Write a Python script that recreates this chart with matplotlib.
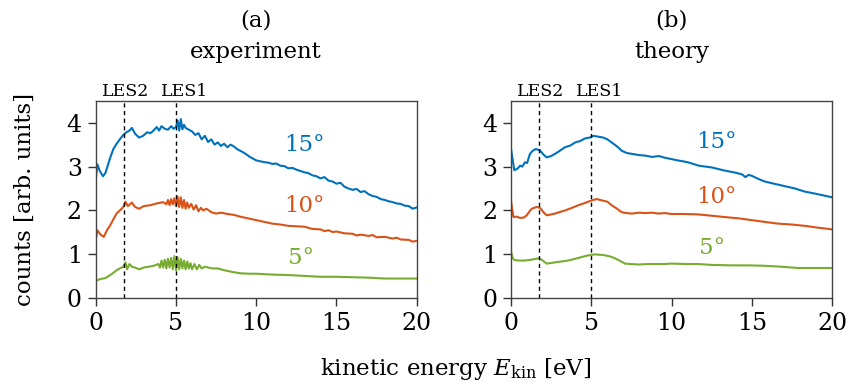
import matplotlib
matplotlib.use("Agg")
import matplotlib.pyplot as plt

plt.rcParams['font.family'] = ['DejaVu Serif']
plt.rcParams['mathtext.fontset'] = 'dejavuserif'

blue = '#0072BD'
orange = '#D95319'
green = '#77AC30'

# experiment (a)
exp15_x = [0, 0.1, 0.25, 0.45, 0.6, 0.9, 1.1, 1.3, 1.5, 1.72, 1.9, 2.1, 2.25, 2.45, 2.7, 2.95, 3.2,
           3.4, 3.6, 3.8, 3.95, 4.1, 4.3, 4.5, 4.7, 4.85, 5.0, 5.1, 5.2, 5.3, 5.4, 5.5, 5.6, 5.8, 6.0,
           6.2, 6.4, 6.6, 6.8, 7.0, 7.2, 7.4, 7.6, 7.8, 8.0, 8.2, 8.4, 8.6, 8.8, 9.0, 9.3, 9.6,
           10.0, 10.25, 10.5, 10.75, 11.0, 11.25, 11.5, 11.75, 12.0, 12.25, 12.5, 12.75, 13.0, 13.25,
           13.5, 13.75, 14.0, 14.25, 14.5, 14.75, 15.0, 15.25, 15.5, 15.75, 16.0, 16.25, 16.5, 16.75,
           17.0, 17.25, 17.5, 17.75, 18.0, 18.25, 18.5, 18.75, 19.0, 19.25, 19.5, 19.75, 20.0]
exp15_y = [2.70, 3.05, 2.90, 2.78, 2.85, 3.20, 3.40, 3.52, 3.62, 3.72, 3.78, 3.82, 3.88, 3.75, 3.66,
           3.70, 3.78, 3.76, 3.82, 3.90, 3.82, 3.92, 3.86, 3.84, 3.92, 3.86, 3.90, 4.05, 3.82, 4.08,
           3.85, 3.95, 3.88, 3.84, 3.80, 3.72, 3.76, 3.62, 3.70, 3.56, 3.62, 3.50, 3.55, 3.47, 3.52,
           3.44, 3.50, 3.46, 3.40, 3.36, 3.30, 3.22,
           3.14, 3.12, 3.10, 3.09, 3.06, 3.07, 3.02, 3.01, 2.96, 2.97, 2.93, 2.90, 2.87, 2.85,
           2.80, 2.78, 2.73, 2.76, 2.68, 2.66, 2.61, 2.63, 2.54, 2.50, 2.47, 2.49, 2.42, 2.44,
           2.37, 2.33, 2.31, 2.26, 2.24, 2.21, 2.19, 2.16, 2.15, 2.11, 2.10, 2.04, 2.07]

exp10_x = [0, 0.1, 0.3, 0.5, 0.7, 0.9, 1.1, 1.3, 1.5, 1.72, 1.85, 2.0, 2.25, 2.45, 2.7, 3.0, 3.4,
           3.8, 4.2, 4.4, 4.5, 4.6, 4.7, 4.8, 4.9, 5.0, 5.1, 5.2, 5.3, 5.4, 5.5, 5.6, 5.7, 5.8, 5.95,
           6.1, 6.25, 6.4, 6.55, 6.7, 6.9, 7.2, 7.5, 7.8, 8.2, 8.6, 9.0, 9.5,
           10.0, 10.5, 11.0, 11.5, 12.0, 12.5, 13.0, 13.5, 14.0, 14.25, 14.5, 14.75, 15.0, 15.5,
           16.0, 16.25, 16.5, 17.0, 17.25, 17.5, 18.0, 18.5, 18.75, 19.0, 19.5, 19.75, 20.0]
exp10_y = [1.32, 1.55, 1.45, 1.40, 1.55, 1.66, 1.80, 1.93, 2.00, 2.08, 2.20, 2.10, 2.18, 2.08, 2.04,
           2.10, 2.12, 2.16, 2.19, 2.14, 2.24, 2.12, 2.26, 2.14, 2.28, 2.10, 2.32, 2.08, 2.30, 2.06,
           2.24, 2.04, 2.18, 2.06, 2.15, 2.02, 2.12, 1.98, 2.06, 2.00, 2.04, 1.96, 1.93, 1.95, 1.92,
           1.90, 1.86, 1.82,
           1.78, 1.74, 1.70, 1.68, 1.65, 1.64, 1.63, 1.58, 1.57, 1.53, 1.55, 1.51, 1.52, 1.48,
           1.47, 1.43, 1.45, 1.42, 1.44, 1.39, 1.40, 1.36, 1.38, 1.34, 1.33, 1.29, 1.31]

exp5_x = [0, 0.3, 0.6, 0.9, 1.1, 1.3, 1.5, 1.72, 1.85, 1.95, 2.1, 2.25, 2.45, 2.7, 3.0, 3.3, 3.6,
          3.9, 4.0, 4.1, 4.2, 4.3, 4.4, 4.5, 4.6, 4.7, 4.8, 4.9, 5.0, 5.1, 5.2, 5.3, 5.4, 5.5, 5.6,
          5.7, 5.8, 5.9, 6.0, 6.15, 6.3, 6.45, 6.6, 6.8, 7.0, 7.3, 7.6, 8.0, 8.5, 9.0, 9.5, 10.0,
          11.0, 12.0, 13.0, 14.0, 15.0, 16.0, 17.0, 18.0, 19.0, 20.0]
exp5_y = [0.40, 0.44, 0.46, 0.53, 0.58, 0.64, 0.68, 0.72, 0.82, 0.66, 0.78, 0.72, 0.70, 0.66, 0.70,
          0.72, 0.74, 0.78, 0.70, 0.86, 0.70, 0.88, 0.68, 0.90, 0.70, 0.92, 0.66, 0.96, 0.64, 0.94,
          0.66, 0.90, 0.68, 0.86, 0.66, 0.84, 0.68, 0.80, 0.66, 0.78, 0.66, 0.76, 0.68, 0.72, 0.70,
          0.68, 0.68, 0.64, 0.60, 0.57, 0.56, 0.56, 0.54, 0.53, 0.51, 0.49, 0.49, 0.48, 0.47, 0.45,
          0.45, 0.45]

# theory (b)
th15_x = [0, 0.2, 0.4, 0.56, 0.7, 0.87, 1.0, 1.18, 1.35, 1.54, 1.8, 2.0, 2.22, 2.5, 2.74, 3.0, 3.36,
          3.7, 4.0, 4.3, 4.6, 4.9, 5.13, 5.45, 5.75, 6.0, 6.27, 6.6, 6.9, 7.2, 7.52, 8.0, 8.35, 8.8,
          9.2, 9.6, 10.0, 10.4, 11.0, 11.7, 12.5, 13.3, 14.0, 14.4, 14.6, 14.8, 15.0, 15.4, 15.8, 16.5,
          17.1, 17.7, 18.3, 19.0, 19.5, 20.0]
th15_y = [3.40, 2.92, 2.95, 3.02, 3.00, 3.10, 3.08, 3.29, 3.36, 3.40, 3.37, 3.28, 3.21, 3.24, 3.29,
          3.35, 3.44, 3.48, 3.55, 3.58, 3.64, 3.66, 3.70, 3.68, 3.66, 3.62, 3.55, 3.46, 3.36, 3.31,
          3.29, 3.26, 3.25, 3.22, 3.24, 3.20, 3.17, 3.14, 3.10, 3.02, 2.98, 2.91, 2.86, 2.82, 2.76,
          2.81, 2.79, 2.72, 2.66, 2.60, 2.55, 2.50, 2.43, 2.38, 2.34, 2.30]

th10_x = [0, 0.15, 0.35, 0.56, 0.8, 0.98, 1.15, 1.29, 1.6, 1.81, 2.0, 2.22, 2.5, 2.74, 3.0, 3.36,
          3.8, 4.2, 4.6, 5.03, 5.35, 5.65, 6.0, 6.27, 6.6, 6.9, 7.2, 7.52, 8.0, 8.35, 8.8, 9.18, 9.6,
          10.0, 10.8, 11.67, 12.5, 13.33, 14.2, 15.0, 15.8, 16.65, 17.5, 18.3, 19.1, 20.0]
th10_y = [2.21, 1.85, 1.86, 1.83, 1.84, 1.89, 1.98, 2.04, 2.08, 2.06, 1.97, 1.89, 1.91, 1.93, 1.96,
          2.00, 2.06, 2.12, 2.17, 2.23, 2.26, 2.23, 2.20, 2.12, 2.04, 1.96, 1.94, 1.93, 1.95, 1.94,
          1.95, 1.93, 1.94, 1.92, 1.92, 1.91, 1.88, 1.85, 1.82, 1.78, 1.74, 1.70, 1.68, 1.65, 1.61,
          1.57]

th5_x = [0, 0.1, 0.21, 0.5, 0.87, 1.29, 1.7, 1.9, 2.22, 2.6, 2.95, 3.4, 3.78, 4.2, 4.61, 5.0, 5.23,
         5.6, 5.85, 6.2, 6.48, 6.8, 7.1, 7.5, 7.93, 8.5, 8.97, 9.5, 10.0, 11.0, 11.67, 12.5, 13.75,
         14.8, 15.83, 16.8, 17.9, 19.0, 20.0]
th5_y = [1.06, 0.92, 0.87, 0.86, 0.86, 0.88, 0.91, 0.88, 0.79, 0.81, 0.83, 0.85, 0.88, 0.92, 0.96,
         0.99, 1.00, 0.99, 0.98, 0.95, 0.91, 0.85, 0.79, 0.78, 0.77, 0.78, 0.78, 0.78, 0.79, 0.78,
         0.78, 0.76, 0.75, 0.75, 0.74, 0.72, 0.69, 0.69, 0.69]

les_x = [1.75, 5.0]
les_labels = ['LES2', 'LES1']
les_label_x = [1.85, 5.55]

angle_labels = ['15°', '10°', '5°']
angle_x = [[13.0, 13.0, 12.8], [12.8, 12.8, 12.5]]
angle_y = [[3.5, 2.1, 0.92], [3.55, 2.3, 1.15]]

panels = [
    ('(a)\nexperiment', [(exp15_x, exp15_y), (exp10_x, exp10_y), (exp5_x, exp5_y)]),
    ('(b)\ntheory', [(th15_x, th15_y), (th10_x, th10_y), (th5_x, th5_y)]),
]
colors = [blue, orange, green]

fig = plt.figure(figsize=(8.51, 3.87), dpi=100)
axes = [fig.add_axes([0.1125, 0.2292, 0.3772, 0.5106]),
        fig.add_axes([0.6005, 0.2292, 0.3772, 0.5106])]

for i, ax in enumerate(axes):
    title, curves = panels[i]
    for (x, y), c in zip(curves, colors):
        ax.plot(x, y, color=c, lw=1.5)
    for lx in les_x:
        ax.axvline(lx, color='black', ls=(0, (3, 2.5)), lw=1.0)
    for lab, tx in zip(les_labels, les_label_x):
        ax.text(tx, 4.52, lab, ha='center', va='bottom', fontsize=12.5)
    for lab, tx, ty, c in zip(angle_labels, angle_x[i], angle_y[i], colors):
        ax.text(tx, ty, lab, color=c, fontsize=16.5, ha='center', va='center')
    ax.set_xlim(0, 20)
    ax.set_ylim(0, 4.5)
    ax.set_xticks([0, 5, 10, 15, 20])
    ax.set_yticks([0, 1, 2, 3, 4])
    ax.tick_params(direction='out', labelsize=17, length=6, width=1.0, color='#333333', pad=4)
    for s in ax.spines.values():
        s.set_color('#444444')
        s.set_linewidth(1.0)
    ax.set_title(title, fontsize=16.5, pad=31, linespacing=1.55)

axes[0].set_ylabel('counts [arb. units]', fontsize=16.5, labelpad=22)
fig.text(0.535, 0.03, r'kinetic energy $E_{\mathrm{kin}}$ [eV]', ha='center', fontsize=16.5)

fig.savefig('out.png', dpi=100)
